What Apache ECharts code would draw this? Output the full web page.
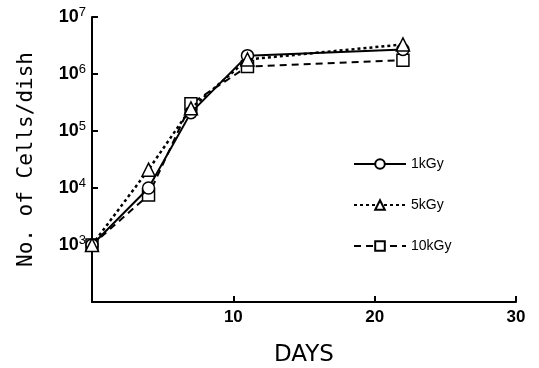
<!DOCTYPE html>
<html><head><meta charset="utf-8">
<script src="https://cdn.jsdelivr.net/npm/echarts@6/dist/echarts.min.js"></script>
<style>html,body{margin:0;padding:0;background:#fff}#c{width:539px;height:368px}</style>
</head><body><div id="c"></div>
<script>
const days = [0, 4, 7, 11, 22];
const s1kGy = [1000, 10000, 210000, 2100000, 2700000];
const s5kGy = [1000, 21000, 250000, 1800000, 3300000];
const s10kGy = [1000, 7500, 300000, 1350000, 1750000];
const seriesNames = ['1kGy', '5kGy', '10kGy'];
const xTicks = [10, 20, 30];
const yTickExps = [3, 4, 5, 6, 7];

const chart = echarts.init(document.getElementById('c'), null, {renderer: 'canvas'});
const pair = arr => days.map((d, i) => [d, arr[i]]);
const mk = {color: '#fff', borderColor: '#000', borderWidth: 1.5};
chart.setOption({
  animation: false,
  backgroundColor: '#fff',
  grid: {left: 92, right: 23, top: 17, bottom: 66, outerBoundsMode: 'none', containLabel: false},
  xAxis: {
    type: 'value', min: 0, max: 30, interval: 10,
    name: 'DAYS', nameLocation: 'middle', nameGap: 42,
    nameTextStyle: {fontFamily: 'DejaVu Sans', fontSize: 23, color: '#000'},
    axisLine: {lineStyle: {color: '#000', width: 2}},
    axisTick: {inside: true, length: 6, lineStyle: {color: '#000', width: 2}},
    axisLabel: {
      margin: 7, fontFamily: 'Liberation Sans', fontWeight: 'bold', fontSize: 17, color: '#000',
      formatter: v => xTicks.indexOf(v) >= 0 ? String(v) : ''
    },
    splitLine: {show: false}
  },
  yAxis: {
    type: 'log', logBase: 10, min: 100, max: 10000000,
    name: 'No. of Cells/dish', nameLocation: 'middle', nameGap: 55, nameRotate: 90,
    nameTextStyle: {fontFamily: 'DejaVu Sans Mono', fontSize: 21, color: '#000'},
    axisLine: {lineStyle: {color: '#000', width: 2}},
    axisTick: {inside: true, length: 6, lineStyle: {color: '#000', width: 2}},
    axisLabel: {
      margin: 6,
      formatter: v => {
        const e = Math.round(Math.log10(v));
        if (yTickExps.indexOf(e) < 0) return '';
        return '{b|10}{s|' + e + '}';
      },
      rich: {
        b: {fontFamily: 'Liberation Sans', fontWeight: 'bold', fontSize: 18, color: '#000'},
        s: {fontFamily: 'Liberation Sans', fontSize: 13, color: '#000', verticalAlign: 'top', padding: [0, 0, 10, 0]}
      }
    },
    splitLine: {show: false}
  },
  legend: {
    orient: 'vertical', left: 348, top: 152, itemGap: 27,
    itemWidth: 52, itemHeight: 12,
    textStyle: {fontFamily: 'Liberation Sans Narrow, Liberation Sans', fontSize: 14, color: '#000'},
    data: seriesNames
  },
  series: [
    {name: seriesNames[0], type: 'line', data: pair(s1kGy), symbol: 'circle', symbolSize: 12,
     itemStyle: mk, lineStyle: {color: '#000', width: 2, type: 'solid'}, z: 3},
    {name: seriesNames[1], type: 'line', data: pair(s5kGy), symbol: 'triangle', symbolSize: 13,
     itemStyle: mk, lineStyle: {color: '#000', width: 2.5, type: [3, 3]}, z: 4},
    {name: seriesNames[2], type: 'line', data: pair(s10kGy), symbol: 'rect', symbolSize: 12,
     itemStyle: mk, lineStyle: {color: '#000', width: 2, type: [7, 5]}, z: 2}
  ]
});
</script></body></html>
